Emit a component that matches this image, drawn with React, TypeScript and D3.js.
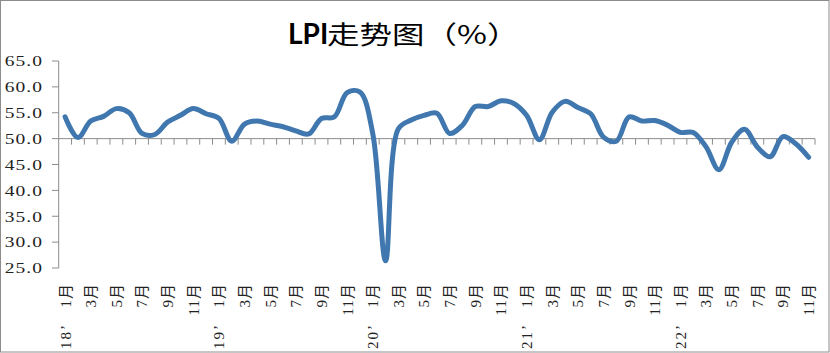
import React from "react";
import * as d3 from "d3";

const values: number[] = [
  54.2, 50.2, 53.4, 54.3, 55.8, 55.0, 51.0, 50.8, 53.2, 54.5, 55.8, 54.8,
  53.9, 49.5, 52.8, 53.4, 52.8, 52.3, 51.5, 50.9, 53.9, 54.2, 58.9, 59.0,
  51.0, 26.4, 51.9, 53.6, 54.5, 54.9, 51.0, 52.6, 56.2, 56.2, 57.3, 56.8,
  54.5, 49.8, 55.1, 57.2, 56.0, 54.8, 50.3, 49.5, 54.2, 53.4, 53.5, 52.6,
  51.2, 51.2, 48.4, 44.0, 49.3, 51.8, 48.4, 46.5, 50.4, 49.0, 46.4,
];
const years: string[] = ["18’", "19’", "20’", "21’", "22’"];
const monthNames: string[] = ["1月", "2月", "3月", "4月", "5月", "6月", "7月", "8月", "9月", "10月", "11月", "12月"];
const yTicks: number[] = [25, 30, 35, 40, 45, 50, 55, 60, 65];
const title = { latin: "LPI", cjk: "走势图（%）" };

const W = 830;
const H = 353;

export default function App() {
  const cats = values.map((_, i) => i);
  const x = d3.scaleBand<number>().domain(cats).range([58.7, 815]).padding(0);
  const y = d3.scaleLinear().domain([25, 65]).range([268, 61]);
  const cx = (i: number) => (x(i) as number) + x.bandwidth() / 2;
  const line = d3
    .line<number>()
    .x((_, i) => cx(i))
    .y((d) => y(d))
    .curve(d3.curveCatmullRom.alpha(0.5));
  const axisColor = "#8c8c8c";
  const boundaries = d3.range(1, values.length + 1).map((k) => 58.7 + k * x.bandwidth());
  const labelFont = "'Liberation Serif', 'Noto Sans CJK SC', serif";

  return (
    <>
      <style>{`body{margin:0;}`}</style>
      <svg width={W} height={H} style={{ display: "block", background: "#fff" }}>
        <rect x={0.5} y={0.5} width={W - 1.5} height={H - 1.5} fill="#fff" stroke={axisColor} strokeWidth={1} />
        <text x={288} y={43.5} fontSize={28} fontFamily="Lato, 'Open Sans', sans-serif" fontWeight="bold" fill="#000">
          {title.latin}
        </text>
        <g transform="translate(327,44) scale(1.3,1)">
          <text x={0} y={0} fontSize={25} fontFamily="'Noto Sans CJK SC', sans-serif" fill="#000">
            {title.cjk}
          </text>
        </g>
        {/* y axis */}
        <line x1={58.7} x2={58.7} y1={y(65)} y2={y(25)} stroke={axisColor} strokeWidth={1} />
        {yTicks.map((t) => (
          <g key={t}>
            <line x1={52} x2={58.7} y1={y(t)} y2={y(t)} stroke={axisColor} strokeWidth={1} />
            <g transform={`translate(43,${y(t)}) scale(1.3,1)`}>
              <text
                x={0}
                y={0}
                dy="0.35em"
                textAnchor="end"
                fontSize={15}
                letterSpacing={0.8}
                fontFamily="'Liberation Serif', serif"
                fill="#222"
              >
                {t.toFixed(1)}
              </text>
            </g>
          </g>
        ))}
        {/* x axis at 50 */}
        <line x1={58.7} x2={815} y1={y(50)} y2={y(50)} stroke={axisColor} strokeWidth={1} />
        {boundaries.map((bx, k) => (
          <line key={k} x1={bx} x2={bx} y1={y(50)} y2={y(50) + 6} stroke={axisColor} strokeWidth={1} />
        ))}
        {/* line */}
        <path d={line(values) || ""} fill="none" stroke="#3f77ae" strokeWidth={5} strokeLinejoin="round" strokeLinecap="round" />
        {/* month labels */}
        {cats
          .filter((i) => i % 2 === 0)
          .map((i) => (
            <text
              key={i}
              transform={`translate(${cx(i)},283) rotate(-90)`}
              dy="0.36em"
              textAnchor="end"
              fontSize={15}
              letterSpacing={1}
              fontFamily={labelFont}
              fill="#222"
            >
              {monthNames[i % 12]}
            </text>
          ))}
        {cats
          .filter((i) => i % 12 === 0)
          .map((i) => (
            <text
              key={"y" + i}
              transform={`translate(${cx(i)},349) rotate(-90)`}
              dy="0.36em"
              textAnchor="start"
              fontSize={15}
              letterSpacing={2}
              fontFamily={labelFont}
              fill="#222"
            >
              {years[i / 12]}
            </text>
          ))}
      </svg>
    </>
  );
}
